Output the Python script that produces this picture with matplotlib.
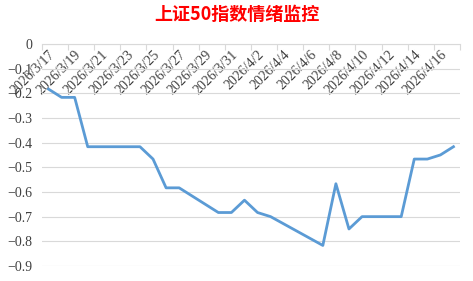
import datetime as dt
import numpy as np
import matplotlib
matplotlib.use('Agg')
import matplotlib.pyplot as plt
import matplotlib.dates as mdates
from matplotlib.ticker import FixedLocator

plt.rcParams['font.family'] = ['Noto Sans CJK SC', 'DejaVu Sans']

title = "上证50指数情绪监控"

days = ["2026-03-17", "2026-03-18", "2026-03-19", "2026-03-20", "2026-03-23",
        "2026-03-24", "2026-03-25", "2026-03-26", "2026-03-27", "2026-03-30",
        "2026-03-31", "2026-04-01", "2026-04-02", "2026-04-03", "2026-04-07",
        "2026-04-08", "2026-04-09", "2026-04-10", "2026-04-13", "2026-04-14",
        "2026-04-15", "2026-04-16", "2026-04-17"]
mood = [-0.1833, -0.2167, -0.2167, -0.4167, -0.4167, -0.4167, -0.4667, -0.5833,
        -0.5833, -0.6833, -0.6833, -0.6333, -0.6833, -0.7, -0.8167, -0.5667,
        -0.75, -0.7, -0.7, -0.4667, -0.4667, -0.45, -0.4167]

yticks = [0, -0.1, -0.2, -0.3, -0.4, -0.5, -0.6, -0.7, -0.8, -0.9]
ylabels = ["0", "−0.1", "−0.2", "−0.3", "−0.4", "−0.5", "−0.6", "−0.7", "−0.8", "−0.9"]

dates = [dt.datetime.strptime(d, "%Y-%m-%d") for d in days]
start = dates[0]
end = dates[-1]
label_days = [start + dt.timedelta(days=2 * i) for i in range(16)]
xlabels = ["%d/%d/%d" % (d.year, d.month, d.day) for d in label_days]

fig = plt.figure(figsize=(4.73, 2.81), dpi=100)
ax = fig.add_axes([0.0888, 0.0534, 0.9725 - 0.0888, 0.8438 - 0.0534])

for s in ['left', 'right', 'top']:
    ax.spines[s].set_visible(False)
ax.spines['bottom'].set_position(('data', 0))
ax.spines['bottom'].set_color('#D9D9D9')
ax.spines['bottom'].set_linewidth(0.8)

ax.plot(dates, mood, color='#5B9BD5', lw=2.0, solid_joinstyle='round', zorder=3)

x0 = mdates.date2num(start) - 0.5
x1 = mdates.date2num(end) + 0.5
ax.set_xlim(x0, x1)
ax.set_ylim(-0.9, 0)

ax.set_yticks(yticks, labels=ylabels, fontfamily='Liberation Serif', fontsize=10, color='#404040')
ax.grid(axis='y', color='#D9D9D9', lw=0.8)
ax.tick_params(axis='y', length=0, pad=7)

ax.set_xticks(mdates.date2num(label_days), labels=xlabels, fontfamily='Liberation Serif',
              fontsize=10, color='#404040', rotation=45, ha='right', va='top',
              rotation_mode='anchor')
ax.xaxis.set_minor_locator(FixedLocator(np.arange(x0, x1 + 0.1, 2)))
ax.tick_params(axis='x', which='major', length=0, pad=3)
ax.tick_params(axis='x', which='minor', length=4, color='#D9D9D9', width=0.8)

fig.text(0.501, 1 - 14 / 281, title, color='#FF0000', fontsize=13, fontweight='bold',
         ha='center', va='center')

fig.savefig('out.png', dpi=100)
